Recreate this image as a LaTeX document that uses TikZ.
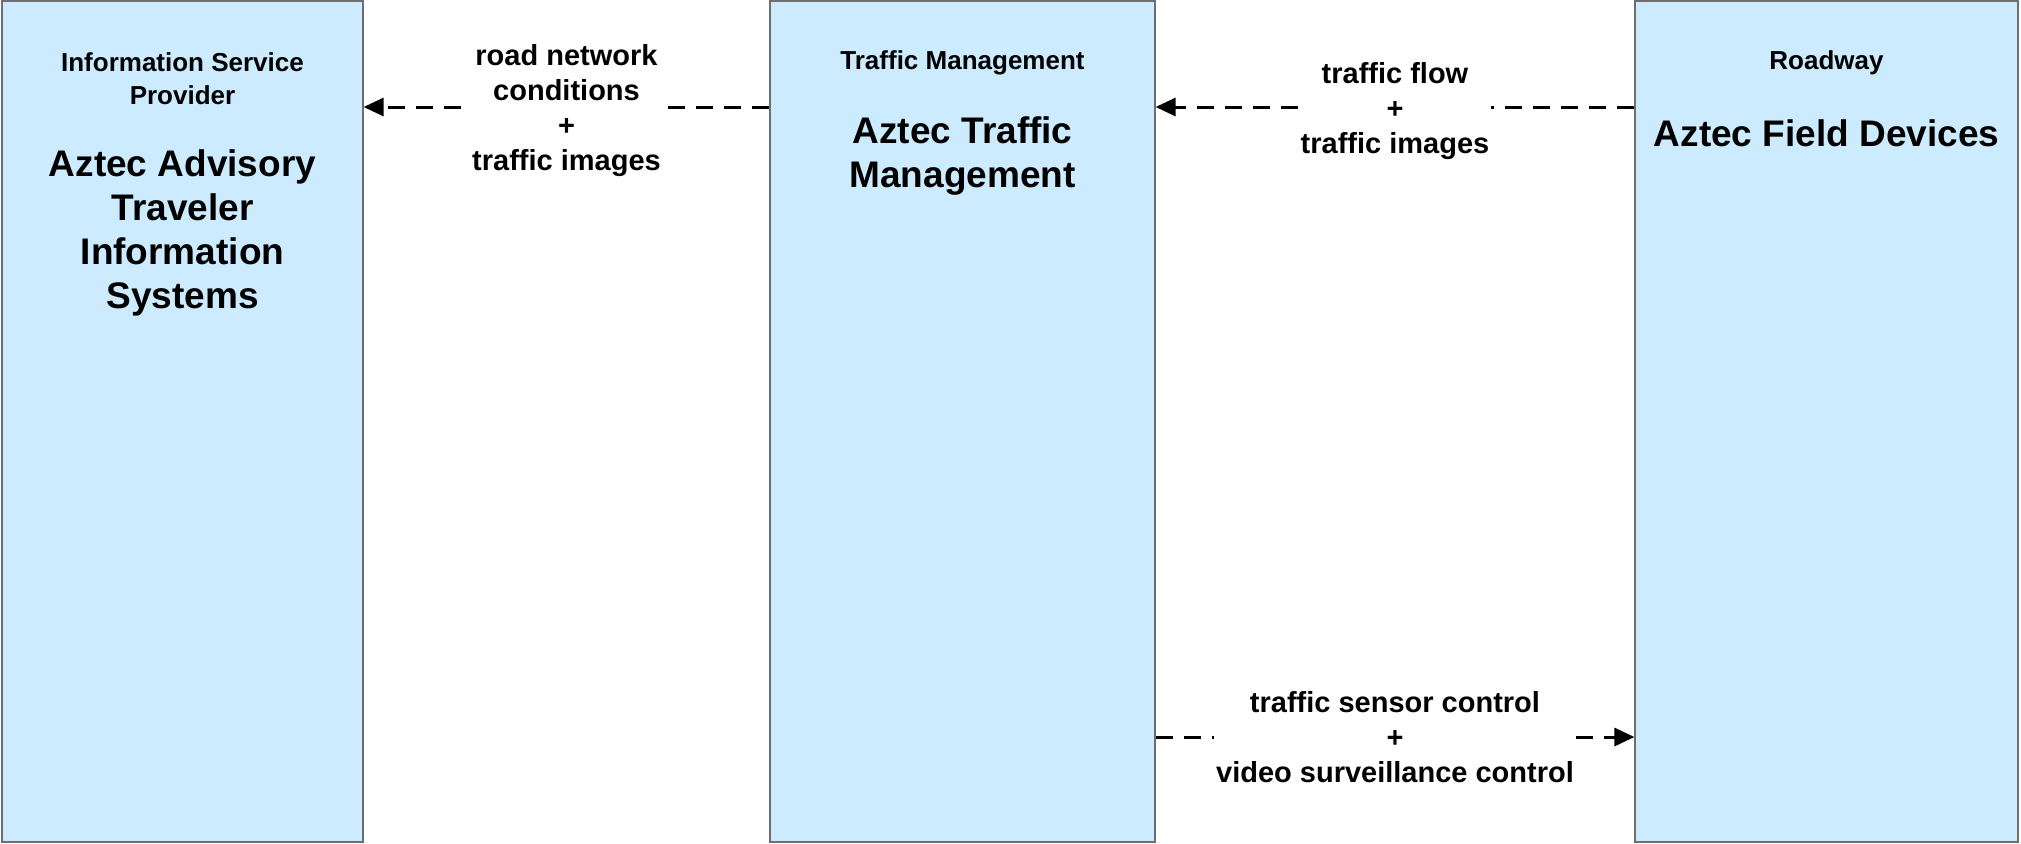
\documentclass[tikz,border=0pt]{standalone}
\usepackage{fontspec}
\setmainfont{Liberation Sans}
\usetikzlibrary{arrows.meta}
\definecolor{boxblue}{RGB}{204,235,255}
\definecolor{boxline}{RGB}{110,110,110}
\tikzset{
  sysbox/.style={draw=boxline, line width=0.6pt, fill=boxblue, inner sep=0pt},
  hdr/.style={font=\fontsize{13pt}{16.5pt}\selectfont\bfseries, align=center, inner sep=0pt},
  big/.style={font=\fontsize{18.5pt}{22pt}\selectfont\bfseries, align=center, inner sep=0pt},
  lbl/.style={font=\fontsize{14.5pt}{17.5pt}\selectfont\bfseries, align=center, fill=white, inner sep=1pt},
  conn/.style={line width=1.5pt, dash pattern=on 8.5pt off 5.5pt, -{Triangle[length=10pt,width=9pt]}}
}
\begin{document}
\begin{tikzpicture}[x=0.5pt,y=-0.5pt]
\useasboundingbox (0,0) rectangle (2021,843);
% boxes
\node[sysbox, minimum width=180.5pt, minimum height=420.5pt] (b1) at (182.5,421.5) {};
\node[sysbox, minimum width=192.5pt, minimum height=420.5pt] (b2) at (962.5,421.5) {};
\node[sysbox, minimum width=191.5pt, minimum height=420.5pt] (b3) at (1826.5,421.5) {};
% texts
\node[hdr] (h1) at (182.5,79) {Information Service\\Provider};
\node[big] (t1) at (182.5,233) {Aztec Advisory\\Traveler\\Information\\Systems};
\node[hdr] (h2) at (962.5,63) {Traffic Management};
\node[big] (t2) at (962.5,156.5) {Aztec Traffic\\Management};
\node[hdr] (h3) at (1826.5,63) {Roadway};
\node[big] (t3) at (1826.5,133) {Aztec Field Devices};
% connector levels
\coordinate (ytop) at (0,107);
\coordinate (ybot) at (0,737);
\draw[conn] (b2.west |- ytop) -- node[lbl, yshift=-2pt] (l1) {road network\\conditions\\+\\traffic images} (b1.east |- ytop);
\draw[conn] (b3.west |- ytop) -- node[lbl, yshift=-2pt] (l2) {traffic flow\\+\\traffic images} (b2.east |- ytop);
\draw[conn] (b2.east |- ybot) -- node[lbl] (l3) {traffic sensor control\\+\\video surveillance control} (b3.west |- ybot);
\end{tikzpicture}
\end{document}
